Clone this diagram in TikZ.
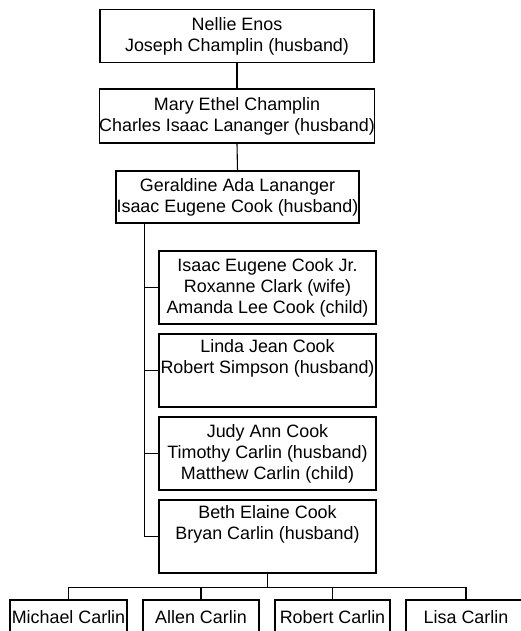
\documentclass[tikz,border=0pt]{standalone}
\usepackage{fontspec}
\setmainfont{Liberation Sans}
\usetikzlibrary{calc}
\begin{document}
\begin{tikzpicture}[x=1pt,y=1pt,
  box/.style={draw=black,line width=1.1pt,inner sep=0pt,align=center,
    font=\fontsize{17.9}{21}\selectfont,minimum width=#1},
  box/.default=217pt,
  link/.style={draw=black,line width=1.1pt}]
\useasboundingbox (0,0) rectangle (520,-631);
\node[box=274pt,minimum height=53pt] (b1) at (237,-36) {Nellie Enos\\Joseph Champlin (husband)};
\node[box=274pt,minimum height=54pt] (b2) at (237,-116) {Mary Ethel Champlin\\Charles Isaac Lananger (husband)};
\node[box=243pt,minimum height=52pt] (b3) at (237.5,-197) {Geraldine Ada Lananger\\Isaac Eugene Cook (husband)};
\node[box,minimum height=73pt] (b4) at (267.5,-287.5) {Isaac Eugene Cook Jr.\\Roxanne Clark (wife)\\Amanda Lee Cook (child)};
\node[box,minimum height=73pt] (b5) at (267.5,-370.5) {Linda Jean Cook\\Robert Simpson (husband)\\\strut};
\node[box,minimum height=73pt] (b6) at (267.5,-453.5) {Judy Ann Cook\\Timothy Carlin (husband)\\Matthew Carlin (child)};
\node[box,minimum height=73pt] (b7) at (267.5,-536.5) {Beth Elaine Cook\\Bryan Carlin (husband)\\\strut};
\node[box=117pt,minimum height=34pt] (c1) at (68.5,-617) {Michael Carlin};
\node[box=116pt,minimum height=34pt] (c2) at (201,-617) {Allen Carlin};
\node[box=115pt,minimum height=34pt] (c3) at (332.5,-617) {Robert Carlin};
\node[box=120pt,minimum height=34pt] (c4) at (466,-617) {Lisa Carlin};
\coordinate (trunk) at ($(b3.south west)+(29pt,0)$);
\coordinate (bus) at ($(b7.south)+(0,-14pt)$);
\draw[link] (b1.south) -- (b2.north);
\draw[link] (b2.south) -- (b3.north);
\draw[link] (trunk) |- (b4.west);
\draw[link] (trunk) |- (b5.west);
\draw[link] (trunk) |- (b6.west);
\draw[link] (trunk) |- (b7.west);
\draw[link] (b7.south) -- (bus);
\draw[link] (bus) -| (c1.north);
\draw[link] (bus) -| (c2.north);
\draw[link] (bus) -| (c3.north);
\draw[link] (bus) -| (c4.north);
\end{tikzpicture}
\end{document}
